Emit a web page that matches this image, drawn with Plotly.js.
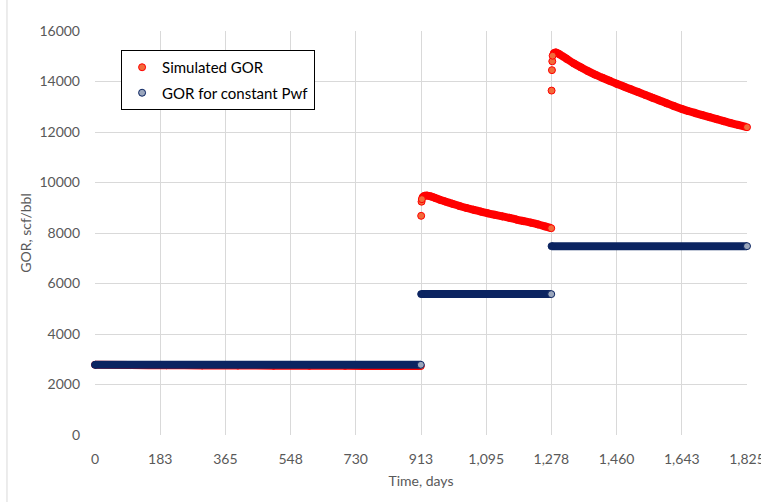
<!DOCTYPE html>
<html>
<head>
<meta charset="utf-8">
<script src="https://cdn.plot.ly/plotly-3.0.1.min.js"></script>
<style>html,body{margin:0;padding:0;background:#fff;}#chart{width:761px;height:502px;}</style>
</head>
<body>
<div id="chart"></div>
<script>
// ---- Data ----
// Simulated GOR, period 1 (days / scf/bbl)
const simTime1 = [0, 100, 200, 300, 400, 500, 600, 700, 800, 912];
const simGor1  = [2780, 2770, 2762, 2755, 2750, 2746, 2742, 2738, 2734, 2730];
// Simulated GOR, period 2
const simTime2 = [913, 914, 915, 917, 922, 930, 940, 950, 965, 980, 1000, 1020, 1040, 1060, 1080, 1100, 1120, 1140, 1160, 1180, 1200, 1220, 1240, 1260, 1277];
const simGor2  = [8680, 9240, 9340, 9420, 9470, 9480, 9450, 9400, 9320, 9250, 9160, 9070, 8990, 8920, 8850, 8780, 8720, 8660, 8600, 8530, 8470, 8410, 8340, 8260, 8190];
// Simulated GOR, period 3
const simTime3 = [1278, 1279, 1280, 1281, 1284, 1290, 1300, 1320, 1340, 1360, 1380, 1400, 1420, 1440, 1460, 1480, 1500, 1520, 1540, 1560, 1580, 1600, 1620, 1643, 1660, 1680, 1700, 1720, 1740, 1760, 1780, 1800, 1825];
const simGor3  = [13640, 14450, 14800, 15020, 15120, 15150, 15080, 14900, 14720, 14560, 14410, 14270, 14150, 14030, 13910, 13800, 13690, 13580, 13470, 13360, 13250, 13140, 13030, 12910, 12830, 12750, 12670, 12590, 12510, 12430, 12350, 12280, 12190];
// GOR for constant Pwf
const cstTime1 = [0, 912];
const cstGor1  = [2780, 2780];
const cstTime2 = [913, 1277];
const cstGor2  = [5580, 5580];
const cstTime3 = [1278, 1825];
const cstGor3  = [7480, 7480];

// Tick labels
const xTickVals = [0, 182.5, 365, 547.5, 730, 912.5, 1095, 1277.5, 1460, 1642.5, 1825];
const xTickText = ['0', '183', '365', '548', '730', '913', '1,095', '1,278', '1,460', '1,643', '1,825'];

// ---- Rendering helpers ----
const X_MAX = 1825, Y_MAX = 16000;
const PLOT_W = 652, PLOT_H = 404;
const pxPerGor = PLOT_H / Y_MAX;

// Daily markers overlap into a solid band; a marker shows its fill only
// when the next one jumps away from it (or it is the last of a run).
function splitSegments(segs) {
  const line = {x: [], y: []}, band = {x: [], y: []}, exposed = {x: [], y: []};
  segs.forEach(([t, g]) => {
    for (let i = 0; i < t.length; i++) {
      const last = i === t.length - 1;
      let jump = false;
      if (!last) {
        const rate = Math.abs(g[i + 1] - g[i]) * pxPerGor / (t[i + 1] - t[i]);
        jump = rate >= 0.8;
      }
      if (last || jump) { exposed.x.push(t[i]); exposed.y.push(g[i]); }
      else { band.x.push(t[i]); band.y.push(g[i]); }
      if (!jump) { line.x.push(t[i]); line.y.push(g[i]); }
    }
    line.x.push(null); line.y.push(null);
  });
  return {line, band, exposed};
}

const sim = splitSegments([[simTime1, simGor1], [simTime2, simGor2], [simTime3, simGor3]]);
const cst = splitSegments([[cstTime1, cstGor1], [cstTime2, cstGor2], [cstTime3, cstGor3]]);

const RED = '#FF0000', RED_FILL = '#F26B3A';
const NAVY = '#0B2461', NAVY_FILL = '#9AA6BC';
const MS = 7;

function series(s, name, edge, fill, group) {
  return [
    {x: s.line.x, y: s.line.y, type: 'scatter', mode: 'lines', connectgaps: false,
     line: {color: edge, width: MS + 1, shape: 'spline', smoothing: 0.8}, showlegend: false, hoverinfo: 'skip', legendgroup: group},
    {x: s.band.x, y: s.band.y, type: 'scatter', mode: 'markers', cliponaxis: false,
     marker: {size: MS, color: edge, line: {color: edge, width: 1}}, showlegend: false, legendgroup: group},
    {x: s.exposed.x, y: s.exposed.y, type: 'scatter', mode: 'markers', name: name, cliponaxis: false,
     marker: {size: MS, color: fill, line: {color: edge, width: 1}}, legendgroup: group}
  ];
}

const data = [].concat(
  series(sim, 'Simulated GOR', RED, RED_FILL, 'sim'),
  series(cst, 'GOR for constant Pwf', NAVY, NAVY_FILL, 'cst')
);

const axisFont = {family: 'Lato, sans-serif', size: 14, color: '#595959'};
const layout = {
  width: 761, height: 502,
  margin: {l: 95, r: 14, t: 31, b: 67},
  paper_bgcolor: '#ffffff', plot_bgcolor: '#ffffff',
  font: {family: 'Lato, sans-serif', color: '#595959'},
  xaxis: {
    range: [0, X_MAX], tickvals: xTickVals, ticktext: xTickText,
    showgrid: true, gridcolor: '#D9D9D9', gridwidth: 1, zeroline: false,
    showline: false, ticks: '', tickfont: axisFont, ticklabelstandoff: 14,
    ticklabeloverflow: 'allow',
    title: {text: 'Time, days', font: axisFont, standoff: 10}
  },
  yaxis: {
    range: [0, Y_MAX], dtick: 2000, tick0: 0, tickformat: 'd',
    showgrid: true, gridcolor: '#D9D9D9', gridwidth: 1, zeroline: false,
    showline: false, ticks: '', tickfont: axisFont, ticklabelstandoff: 14,
    title: {text: 'GOR, scf/bbl', font: axisFont, standoff: 4}
  },
  legend: {
    x: 0.040, y: 0.953, xanchor: 'left', yanchor: 'top',
    bgcolor: '#ffffff', bordercolor: '#000000', borderwidth: 1,
    font: {family: 'Lato, sans-serif', size: 15, color: '#000000'},
    traceorder: 'grouped', tracegroupgap: 3
  },
  shapes: [
    {type: 'line', xref: 'paper', yref: 'paper', x0: -0.135, x1: -0.135, y0: -0.2, y1: 1.1,
     line: {color: '#D9D9D9', width: 1}}
  ],
  showlegend: true
};

Plotly.newPlot('chart', data, layout, {displayModeBar: false, staticPlot: true});
</script>
</body>
</html>
